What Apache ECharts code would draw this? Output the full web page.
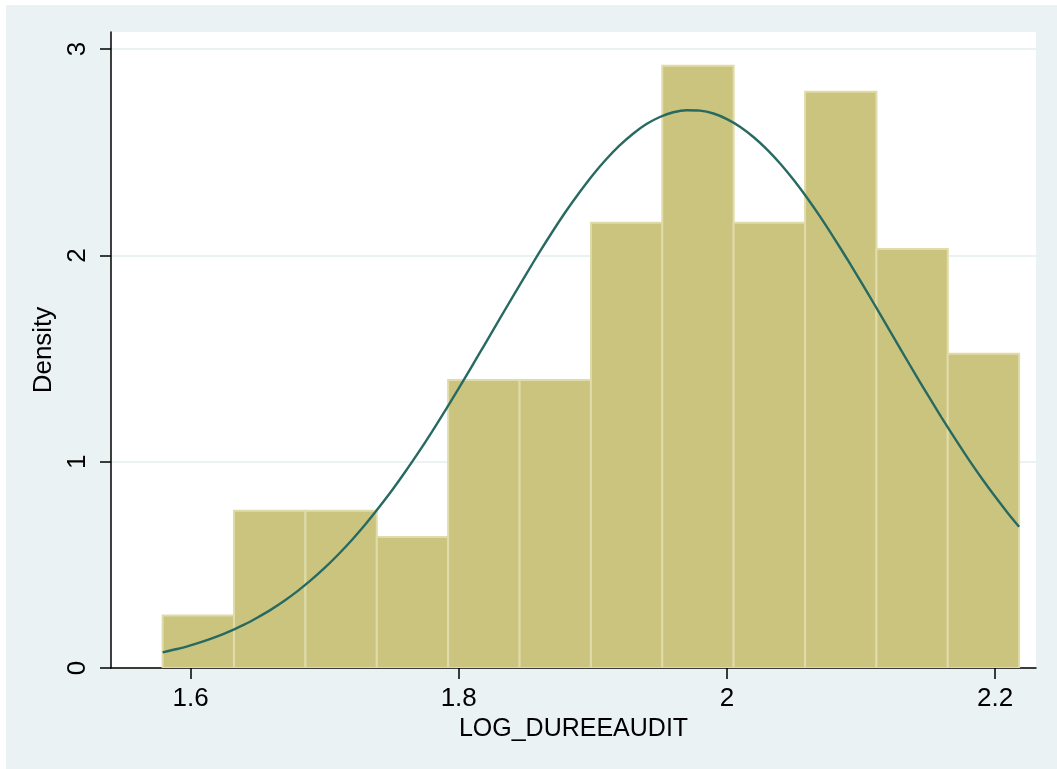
<!DOCTYPE html>
<html>
<head>
<meta charset="utf-8">
<style>
  html, body { margin: 0; padding: 0; background: #ffffff; }
  #chart { width: 1057px; height: 769px; }
</style>
<script src="https://cdn.jsdelivr.net/npm/echarts@6/dist/echarts.min.js"></script>
</head>
<body>
<div id="chart"></div>
<script>
// Histogram bin edges (13 edges -> 12 bins) of LOG_DUREEAUDIT
const binEdges = [1.5792, 1.6324, 1.6857, 1.7389, 1.7921, 1.8454, 1.8986,
                  1.9518, 2.0050, 2.0583, 2.1115, 2.1647, 2.2179];
// Density of each bin
const densities = [0.254, 0.762, 0.762, 0.635, 1.396, 1.396, 2.158,
                   2.920, 2.158, 2.793, 2.031, 1.523];
// Normal density overlay, sampled along the data range
const curveX = [1.5792, 1.59, 1.60, 1.61, 1.62, 1.63, 1.64, 1.65, 1.66, 1.67,
                1.68, 1.69, 1.70, 1.71, 1.72, 1.73, 1.74, 1.75, 1.76, 1.77,
                1.78, 1.79, 1.80, 1.81, 1.82, 1.83, 1.84, 1.85, 1.86, 1.87,
                1.88, 1.89, 1.90, 1.91, 1.92, 1.93, 1.94, 1.95, 1.96, 1.97,
                1.98, 1.99, 2.00, 2.01, 2.02, 2.03, 2.04, 2.05, 2.06, 2.07,
                2.08, 2.09, 2.10, 2.11, 2.12, 2.13, 2.14, 2.15, 2.16, 2.17,
                2.18, 2.19, 2.20, 2.21, 2.2179];
const curveY = [0.076, 0.092, 0.110, 0.130, 0.153, 0.180, 0.210, 0.245, 0.283, 0.326,
                0.374, 0.427, 0.485, 0.549, 0.618, 0.693, 0.774, 0.859, 0.950, 1.045,
                1.145, 1.249, 1.355, 1.465, 1.575, 1.686, 1.797, 1.906, 2.013, 2.116,
                2.214, 2.305, 2.390, 2.466, 2.533, 2.590, 2.637, 2.671, 2.694, 2.704,
                2.702, 2.688, 2.661, 2.623, 2.573, 2.513, 2.443, 2.364, 2.277, 2.183,
                2.083, 1.979, 1.872, 1.762, 1.651, 1.540, 1.429, 1.321, 1.215, 1.113,
                1.014, 0.920, 0.831, 0.747, 0.685];
const xTicks = [1.6, 1.8, 2, 2.2];
const yTicks = [0, 1, 2, 3];

const histData = densities.map((d, i) => [binEdges[i], binEdges[i + 1], d]);
const curveData = curveX.map((x, i) => [x, curveY[i]]);

const FONT = "'Liberation Sans', Arial, Helvetica, sans-serif";
const chart = echarts.init(document.getElementById('chart'), null, { renderer: 'canvas' });

chart.setOption({
  backgroundColor: '#ffffff',
  animation: false,
  graphic: [{
    type: 'rect', z: -100, silent: true,
    shape: { x: 6, y: 5, width: 1051, height: 764 },
    style: { fill: '#eaf2f3' }
  }],
  grid: {
    left: 111, top: 32, right: 21, bottom: 101,
    show: true, backgroundColor: '#ffffff', borderWidth: 0
  },
  xAxis: {
    type: 'value', min: 1.5407, max: 2.2305,
    name: 'LOG_DUREEAUDIT', nameLocation: 'middle', nameGap: 44,
    nameTextStyle: { fontFamily: FONT, fontSize: 25, color: '#000' },
    axisLine: { show: true, onZero: false, lineStyle: { color: '#000', width: 1.5 } },
    axisTick: { show: true, length: 11, customValues: xTicks, lineStyle: { color: '#000', width: 1.5 } },
    axisLabel: {
      customValues: xTicks, margin: 18, fontFamily: FONT, fontSize: 26, color: '#000',
      formatter: v => String(+v.toFixed(1))
    },
    splitLine: { show: false }
  },
  yAxis: {
    type: 'value', min: 0, max: 3.083, interval: 1,
    name: 'Density', nameLocation: 'middle', nameGap: 49, nameRotate: 90,
    nameTextStyle: { fontFamily: FONT, fontSize: 26, color: '#000' },
    axisLine: { show: true, lineStyle: { color: '#000', width: 1.5 } },
    axisTick: { show: true, length: 11, customValues: yTicks, lineStyle: { color: '#000', width: 1.5 } },
    axisLabel: {
      customValues: yTicks, rotate: 90, margin: 20, fontFamily: FONT, fontSize: 26, color: '#000',
      formatter: v => String(v)
    },
    splitLine: { show: true, lineStyle: { color: '#eaf2f3', width: 2 } }
  },
  series: [
    {
      type: 'custom',
      data: histData,
      encode: { x: [0, 1], y: 2 },
      clip: true,
      z: 2,
      renderItem: function (params, api) {
        const topLeft = api.coord([api.value(0), api.value(2)]);
        const bottomRight = api.coord([api.value(1), 0]);
        return {
          type: 'rect',
          shape: {
            x: topLeft[0], y: topLeft[1],
            width: bottomRight[0] - topLeft[0],
            height: bottomRight[1] - topLeft[1]
          },
          style: { fill: '#cbc47f', stroke: '#e0dca9', lineWidth: 2 }
        };
      }
    },
    {
      type: 'line',
      data: curveData,
      smooth: 0.3,
      symbol: 'none',
      z: 3,
      lineStyle: { color: '#276a62', width: 2.4 }
    }
  ]
});
</script>
</body>
</html>
